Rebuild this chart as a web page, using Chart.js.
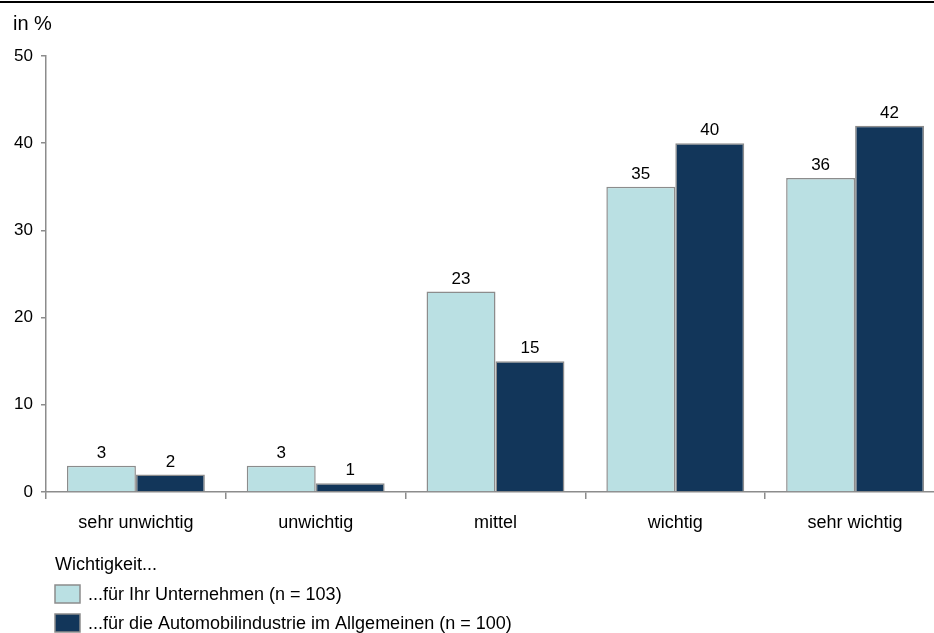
<!DOCTYPE html>
<html>
<head>
<meta charset="utf-8">
<script src="https://cdn.jsdelivr.net/npm/chart.js@4.4.1/dist/chart.umd.min.js"></script>
<style>
  html, body { margin: 0; padding: 0; background: #fff; overflow: hidden; }
  #wrap { width: 934px; height: 633px; overflow: hidden; position: relative; }
  #chart { position: absolute; left: 0; top: 0; }
</style>
</head>
<body>
<div id="wrap"><canvas id="chart" width="945" height="633"></canvas></div>
<script>
var categories = ["sehr unwichtig", "unwichtig", "mittel", "wichtig", "sehr wichtig"];
var seriesNames = ["...für Ihr Unternehmen (n = 103)", "...für die Automobilindustrie im Allgemeinen (n = 100)"];
var valuesCompany = [3, 3, 23, 35, 36];
var valuesIndustry = [2, 1, 15, 40, 42];
var seriesColors = ["#bae0e3", "#12365a"];
var legendTitle = "Wichtigkeit...";
var axisTitle = "in %";

var FONT = "Liberation Sans, Arial, sans-serif";
var axisGray = "#8c8c8c";

const extras = {
  id: "extras",
  afterDatasetsDraw(chart) {
    var ctx = chart.ctx;
    ctx.save();
    ctx.font = "17px " + FONT;
    ctx.fillStyle = "#000";
    ctx.textAlign = "center";
    ctx.textBaseline = "bottom";
    chart.data.datasets.forEach(function (ds, i) {
      chart.getDatasetMeta(i).data.forEach(function (bar, j) {
        ctx.fillText(String(ds.data[j]), bar.x, bar.y - 4);
      });
    });
    ctx.restore();
  },
  afterDraw(chart) {
    var ctx = chart.ctx;
    ctx.save();
    // top rule
    ctx.fillStyle = "#000";
    ctx.fillRect(0, 1, chart.width, 2);
    // axis unit
    ctx.font = "20px " + FONT;
    ctx.textAlign = "left";
    ctx.textBaseline = "alphabetic";
    ctx.fillText(axisTitle, 13, 30);
    // legend
    ctx.font = "18px " + FONT;
    ctx.fillText(legendTitle, 55, 570);
    chart.data.datasets.forEach(function (ds, i) {
      var y = 585 + i * 29;
      ctx.fillStyle = ds.backgroundColor;
      ctx.fillRect(55, y, 25, 18);
      ctx.strokeStyle = axisGray;
      ctx.lineWidth = 1.5;
      ctx.strokeRect(55, y, 25, 18);
      ctx.fillStyle = "#000";
      ctx.textBaseline = "middle";
      ctx.fillText(ds.label, 88, y + 10);
    });
    ctx.restore();
  }
};

new Chart(document.getElementById("chart").getContext("2d"), {
  type: "bar",
  data: {
    labels: categories,
    datasets: [
      {
        label: seriesNames[0],
        data: valuesCompany,
        backgroundColor: seriesColors[0],
        borderColor: axisGray,
        borderWidth: 1.5,
        categoryPercentage: 0.767,
        barPercentage: 1.0,
      },
      {
        label: seriesNames[1],
        data: valuesIndustry,
        backgroundColor: seriesColors[1],
        borderColor: axisGray,
        borderWidth: 1.5,
        categoryPercentage: 0.767,
        barPercentage: 1.0,
      },
    ],
  },
  options: {
    responsive: false,
    animation: false,
    layout: { padding: { top: 56, left: 0, right: 0, bottom: 0 } },
    plugins: {
      legend: { display: false },
      title: { display: false },
      tooltip: { enabled: false },
    },
    scales: {
      x: {
        offset: true,
        grid: {
          offset: true,
          drawOnChartArea: false,
          drawTicks: true,
          tickLength: 7,
          color: axisGray,
          lineWidth: 1.5,
        },
        border: { color: axisGray, width: 1.5 },
        ticks: {
          color: "#000",
          font: { family: FONT, size: 18 },
          padding: 13,
          maxRotation: 0,
        },
        afterFit: function (s) { s.height = 633 - 492; },
      },
      y: {
        min: 0,
        max: 50,
        grid: {
          drawOnChartArea: false,
          drawTicks: true,
          tickLength: 5,
          color: axisGray,
          lineWidth: 1.5,
        },
        border: { color: axisGray, width: 1.5 },
        ticks: {
          stepSize: 10,
          color: "#000",
          font: { family: FONT, size: 17 },
          padding: 8,
        },
        afterFit: function (s) { s.width = 46; },
      },
    },
  },
  plugins: [extras],
});
</script>
</body>
</html>
